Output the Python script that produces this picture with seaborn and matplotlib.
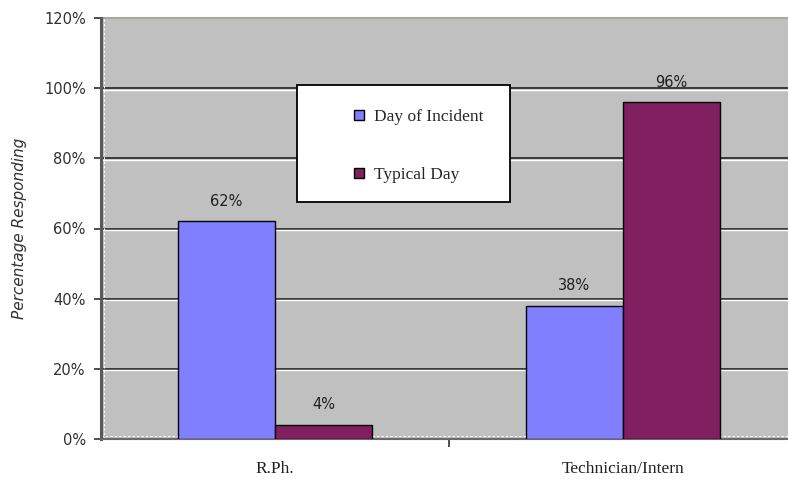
import matplotlib
matplotlib.use("Agg")
import matplotlib.pyplot as plt
import matplotlib.transforms as mtransforms
from matplotlib.lines import Line2D
from matplotlib.patches import Rectangle
import seaborn as sns
import pandas as pd

# Survey responses
roles = ["R.Ph.", "Technician/Intern"]
series = ["Day of Incident", "Typical Day"]
day_of_incident = [62, 38]
typical_day = [4, 96]
y_ticks = [0, 20, 40, 60, 80, 100, 120]
y_tick_labels = ["0%", "20%", "40%", "60%", "80%", "100%", "120%"]

colors = {"Day of Incident": "#8080FF", "Typical Day": "#802060"}

df = pd.DataFrame({
    "Role": roles * 2,
    "Series": [series[0]] * len(roles) + [series[1]] * len(roles),
    "Percent": day_of_incident + typical_day,
})

sns.set_style("white")
plt.rcParams["font.family"] = ["DejaVu Sans"]

fig = plt.figure(figsize=(7.88, 4.83), dpi=100)
ax = fig.add_axes([101 / 788, 44 / 483, 696 / 788, 421 / 483])
ax.set_facecolor("#C0C0C0")

sns.barplot(data=df, x="Role", y="Percent", hue="Series", order=roles,
            hue_order=series, palette=colors, saturation=1, width=0.56,
            edgecolor="black", linewidth=1.0, ax=ax, zorder=3)
if ax.get_legend() is not None:
    ax.get_legend().remove()

ax.set_xlim(-0.5, 1.5)
ax.set_ylim(0, 120)

# Gridlines: dark rule with a white highlight just beneath
below = mtransforms.offset_copy(ax.get_yaxis_transform(), fig=fig, x=0, y=-1.5, units="dots")
for v in y_ticks[1:-1]:
    ax.axhline(v, color="#3A3A3A", lw=1.4, zorder=1)
    ax.plot([0, 1], [v, v], color="white", lw=1.0, transform=below, zorder=1)

# Dotted inner edge along the left and bottom of the plot area
ax.plot([0.004, 0.004], [0, 1], transform=ax.transAxes, color="white", lw=0.8,
        ls=(0, (2, 2)), zorder=1)
ax.plot([0, 1], [0.006, 0.006], transform=ax.transAxes, color="white", lw=0.8,
        ls=(0, (2, 2)), zorder=1)

# Value labels above each bar
for container, vals in zip(ax.containers, [day_of_incident, typical_day]):
    for bar, v in zip(container, vals):
        ax.annotate(f"{v}%", (bar.get_x() + bar.get_width() / 2, v),
                    xytext=(0, 14.5), textcoords="offset points",
                    ha="center", va="center", fontsize=10.5, color="#202020",
                    zorder=5)

# Axes styling
for side in ["top", "right"]:
    ax.spines[side].set_visible(False)
ax.spines["left"].set_color("#5A5A5A")
ax.spines["left"].set_linewidth(2.2)
ax.spines["bottom"].set_color("#6A6A6A")
ax.spines["bottom"].set_linewidth(1.5)
ax.plot([0, 1], [1, 1], transform=ax.transAxes, color="#A8A8A0", lw=1.5,
        clip_on=False, zorder=2)

ax.set_yticks(y_ticks)
ax.set_yticklabels(y_tick_labels, fontsize=10.5, color="#303030")
ax.tick_params(axis="y", direction="out", length=5, width=1.2, color="#303030", pad=6, left=True)

ax.set_xticks([0, 1])
ax.set_xticklabels(roles, fontfamily="Liberation Serif", fontsize=12.5, color="#202020")
ax.tick_params(axis="x", which="major", length=0, pad=16)
ax.set_xticks([0.5], minor=True)
ax.tick_params(axis="x", which="minor", direction="out", length=6, width=1.2,
               color="#303030", bottom=True)

ax.set_xlabel("")
ax.set_ylabel("Percentage Responding", fontstyle="italic", fontsize=11, color="#303030")
ax.yaxis.set_label_coords(-0.106, 0.5)

# Legend in a white framed box
x0, x1 = (297 - 101) / 696, (510 - 101) / 696
y0, y1 = (439 - 202) / 421, (439 - 85) / 421
ax.add_patch(Rectangle((x0, y0), x1 - x0, y1 - y0, transform=ax.transAxes,
                       facecolor="white", edgecolor="black", lw=1.3, zorder=6))
handles = [Line2D([], [], marker="s", ls="", markersize=6.5, markerfacecolor=colors[s],
                  markeredgecolor="black", markeredgewidth=1.0) for s in series]
leg = ax.legend(handles, series, loc="upper left",
                bbox_to_anchor=((352 - 101) / 696, (439 - 109) / 421),
                frameon=False, prop={"family": "Liberation Serif", "size": 12.5},
                labelspacing=2.4, handlelength=0.8, handletextpad=0.45,
                borderpad=0, borderaxespad=0)
leg.set_zorder(7)

fig.savefig("out.png", dpi=100)
